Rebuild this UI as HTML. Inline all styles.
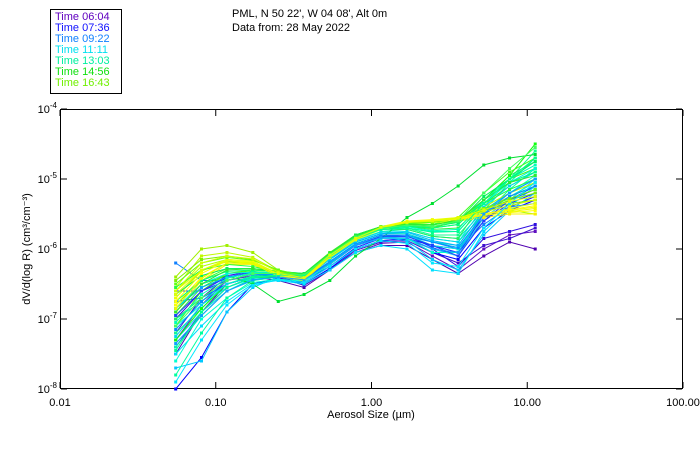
<!DOCTYPE html>
<html><head><meta charset="utf-8"><style>
html,body{margin:0;padding:0;background:#fff;}
svg{display:block;font-family:"Liberation Sans",sans-serif;}
</style></head><body>
<svg id="chart" width="700" height="450" viewBox="0 0 700 450">
<rect x="0" y="0" width="700" height="450" fill="#fff"/>
<g>
<rect x="50.5" y="9.5" width="71" height="84" fill="none" stroke="#000"/>
<g font-size="11">
<text x="55" y="20" fill="#6000c0">Time 06:04</text>
<text x="55" y="31" fill="#1010ff">Time 07:36</text>
<text x="55" y="42" fill="#1080ff">Time 09:22</text>
<text x="55" y="53" fill="#00e0f0">Time 11:11</text>
<text x="55" y="64" fill="#00f0a0">Time 13:03</text>
<text x="55" y="75" fill="#10e010">Time 14:56</text>
<text x="55" y="86" fill="#70f000">Time 16:43</text>
</g></g>
<text x="232" y="17" font-size="11">PML, N 50 22', W 04 08', Alt 0m</text>
<text x="232" y="31" font-size="11">Data from: 28 May 2022</text>
<rect x="60.5" y="109.5" width="622" height="279" fill="none" stroke="#000"/>
<g id="axes"></g>
<g id="series"></g>
<text x="371" y="418" font-size="11" text-anchor="middle">Aerosol Size (µm)</text>
<text transform="translate(30,249) rotate(-90)" font-size="11" text-anchor="middle">dV/d(log R) (cm³/cm⁻³)</text>
</svg>
<script>
const sizes=[0.0553,0.081,0.118,0.173,0.252,0.369,0.54,0.79,1.15,1.69,2.46,3.6,5.26,7.7,11.25];
const xTicks=[0.01,0.1,1,10,100];
const xTickLabels=["0.01","0.10","1.00","10.00","100.00"];
const yTickExp=[-4,-5,-6,-7,-8];
const seriesColors=["#5000b0","#6010c0","#4010d0","#3010e0","#0000ff","#1030ff","#0050ff","#2020f0","#1080ff","#00c8ff","#00e0ff","#20d0f0","#00f0e0","#00ffd0","#00f0c0","#00ffa0","#00f8b0","#10ff90","#00e030","#20f060","#10ff10","#30f040","#40ff20","#50f010","#a0f000","#c0f800","#90f000","#b0ff00","#f0ff00","#ffff00","#f8f000","#e8ff10",
"#2040ff","#0090ff","#00b0ff","#00d8f0","#00f8d8","#00ffb8","#00ff80","#00f060","#20ff40","#30e830","#60ff10","#80f000","#d0ff00","#ffff00","#f0f800","#00e8ff","#10a0ff","#40ff60","#00ff90","#e0ff00"];
const seriesLogValues=[
[-7.5,-6.9,-6.5,-6.4,-6.45,-6.55,-6.3,-6.05,-5.95,-5.95,-6.15,-6.35,-6.1,-5.9,-6.0],
[-7.3,-6.8,-6.45,-6.38,-6.42,-6.5,-6.28,-6.05,-5.92,-5.9,-6.1,-6.3,-6.0,-5.8,-5.75],
[-7.2,-6.7,-6.4,-6.35,-6.4,-6.52,-6.3,-6.02,-5.9,-5.88,-6.05,-6.2,-5.95,-5.85,-5.7],
[-7.0,-6.6,-6.38,-6.32,-6.4,-6.48,-6.25,-6.0,-5.88,-5.86,-6.0,-6.25,-5.85,-5.75,-5.65],
[-8.0,-7.55,-6.9,-6.5,-6.42,-6.5,-6.28,-6.0,-5.88,-5.85,-6.05,-6.15,-5.7,-5.45,-5.3],
[-6.6,-6.6,-6.45,-6.35,-6.35,-6.45,-6.25,-5.98,-5.85,-5.85,-5.95,-6.05,-5.6,-5.35,-5.2],
[-6.75,-6.7,-6.5,-6.4,-6.35,-6.42,-6.22,-5.95,-5.82,-5.8,-5.98,-6.1,-5.5,-5.3,-5.1],
[-7.4,-6.9,-6.55,-6.4,-6.38,-6.45,-6.22,-5.95,-5.85,-5.85,-5.95,-6.0,-5.55,-5.4,-5.25],
[-6.2,-6.45,-6.45,-6.35,-6.36,-6.44,-6.2,-5.95,-5.82,-5.82,-5.9,-6.0,-5.65,-5.4,-5.35],
[-7.7,-7.6,-6.9,-6.55,-6.4,-6.45,-6.2,-5.95,-5.83,-5.88,-6.15,-6.3,-5.8,-5.45,-5.2],
[-7.5,-7.1,-6.75,-6.5,-6.45,-6.5,-6.3,-6.05,-5.95,-6.0,-6.3,-6.35,-5.75,-5.4,-5.1],
[-7.3,-6.9,-6.6,-6.45,-6.4,-6.45,-6.2,-5.95,-5.85,-5.85,-6.0,-6.1,-5.55,-5.3,-5.0],
[-7.1,-6.8,-6.55,-6.42,-6.4,-6.43,-6.18,-5.92,-5.8,-5.8,-5.95,-6.0,-5.5,-5.25,-5.05],
[-7.6,-7.0,-6.7,-6.48,-6.43,-6.46,-6.22,-5.95,-5.82,-5.85,-6.05,-6.05,-5.45,-5.2,-4.95],
[-7.0,-6.75,-6.5,-6.4,-6.38,-6.4,-6.15,-5.9,-5.78,-5.78,-5.9,-5.95,-5.45,-5.2,-5.0],
[-7.8,-7.2,-6.7,-6.45,-6.4,-6.42,-6.15,-5.9,-5.78,-5.75,-5.85,-5.9,-5.5,-5.15,-4.85],
[-7.4,-6.95,-6.6,-6.42,-6.38,-6.4,-6.12,-5.88,-5.75,-5.72,-5.82,-5.85,-5.45,-5.05,-4.7],
[-7.2,-6.85,-6.5,-6.38,-6.35,-6.38,-6.1,-5.85,-5.72,-5.7,-5.8,-5.8,-5.4,-5.0,-4.6],
[-6.9,-6.5,-6.38,-6.5,-6.75,-6.65,-6.45,-6.1,-5.85,-5.55,-5.35,-5.1,-4.8,-4.7,-4.65],
[-7.0,-6.7,-6.45,-6.35,-6.35,-6.38,-6.1,-5.85,-5.72,-5.72,-5.82,-5.85,-5.3,-4.95,-4.75],
[-7.3,-6.85,-6.5,-6.4,-6.4,-6.4,-6.1,-5.85,-5.72,-5.68,-5.7,-5.65,-5.3,-4.95,-4.5],
[-6.95,-6.55,-6.35,-6.32,-6.35,-6.38,-6.08,-5.82,-5.7,-5.68,-5.72,-5.7,-5.35,-5.1,-4.9],
[-6.8,-6.45,-6.28,-6.28,-6.33,-6.36,-6.06,-5.8,-5.68,-5.65,-5.65,-5.55,-5.2,-4.9,-4.7],
[-7.1,-6.6,-6.35,-6.3,-6.32,-6.35,-6.05,-5.8,-5.68,-5.65,-5.7,-5.6,-5.3,-5.0,-4.85],
[-6.4,-6.0,-5.95,-6.05,-6.3,-6.4,-6.1,-5.85,-5.7,-5.62,-5.6,-5.55,-5.45,-5.25,-5.1],
[-6.55,-6.1,-6.05,-6.12,-6.32,-6.4,-6.1,-5.85,-5.7,-5.62,-5.6,-5.55,-5.4,-5.2,-5.05],
[-6.7,-6.3,-6.18,-6.2,-6.35,-6.42,-6.1,-5.85,-5.7,-5.63,-5.62,-5.55,-5.45,-5.35,-5.3],
[-6.6,-6.25,-6.15,-6.18,-6.35,-6.43,-6.1,-5.87,-5.7,-5.62,-5.6,-5.55,-5.5,-5.45,-5.5],
[-6.7,-6.32,-6.15,-6.17,-6.36,-6.42,-6.1,-5.86,-5.68,-5.6,-5.58,-5.55,-5.5,-5.45,-5.4],
[-6.8,-6.4,-6.2,-6.2,-6.38,-6.45,-6.12,-5.87,-5.7,-5.62,-5.6,-5.58,-5.52,-5.48,-5.45],
[-6.9,-6.45,-6.22,-6.22,-6.4,-6.45,-6.13,-5.88,-5.7,-5.63,-5.62,-5.6,-5.55,-5.5,-5.5],
[-6.6,-6.3,-6.15,-6.18,-6.38,-6.44,-6.12,-5.88,-5.72,-5.65,-5.62,-5.6,-5.5,-5.42,-5.35],
[-6.95,-6.6,-6.4,-6.33,-6.36,-6.42,-6.2,-5.95,-5.82,-5.82,-5.95,-6.1,-5.6,-5.3,-5.15],
[-7.15,-6.75,-6.45,-6.36,-6.37,-6.42,-6.18,-5.93,-5.8,-5.8,-5.9,-5.98,-5.5,-5.25,-5.1],
[-6.85,-6.55,-6.4,-6.35,-6.36,-6.4,-6.15,-5.9,-5.78,-5.76,-5.88,-5.95,-5.45,-5.2,-5.0],
[-7.25,-6.8,-6.5,-6.4,-6.38,-6.4,-6.14,-5.88,-5.76,-5.75,-5.85,-5.9,-5.4,-5.1,-4.9],
[-6.85,-6.5,-6.35,-6.33,-6.35,-6.38,-6.1,-5.84,-5.72,-5.7,-5.75,-5.75,-5.35,-5.05,-4.85],
[-7.05,-6.65,-6.42,-6.34,-6.34,-6.37,-6.08,-5.83,-5.7,-5.68,-5.74,-5.72,-5.3,-5.0,-4.8],
[-6.75,-6.45,-6.32,-6.3,-6.33,-6.36,-6.07,-5.82,-5.7,-5.67,-5.7,-5.65,-5.3,-5.05,-4.9],
[-6.65,-6.38,-6.28,-6.28,-6.32,-6.35,-6.06,-5.8,-5.68,-5.66,-5.68,-5.62,-5.25,-5.0,-4.75],
[-6.55,-6.3,-6.22,-6.25,-6.33,-6.37,-6.07,-5.82,-5.68,-5.64,-5.65,-5.6,-5.35,-5.15,-5.0],
[-6.9,-6.5,-6.3,-6.28,-6.32,-6.36,-6.06,-5.81,-5.68,-5.65,-5.66,-5.58,-5.3,-5.05,-4.95],
[-6.5,-6.2,-6.12,-6.16,-6.3,-6.38,-6.08,-5.84,-5.69,-5.63,-5.62,-5.57,-5.42,-5.28,-5.15],
[-6.45,-6.15,-6.1,-6.15,-6.32,-6.4,-6.1,-5.85,-5.7,-5.62,-5.6,-5.56,-5.45,-5.3,-5.2],
[-6.6,-6.2,-6.1,-6.14,-6.33,-6.41,-6.1,-5.86,-5.69,-5.61,-5.59,-5.56,-5.47,-5.38,-5.3],
[-6.75,-6.35,-6.17,-6.19,-6.37,-6.43,-6.11,-5.86,-5.69,-5.61,-5.59,-5.57,-5.5,-5.44,-5.38],
[-6.85,-6.42,-6.2,-6.21,-6.39,-6.45,-6.12,-5.87,-5.7,-5.62,-5.6,-5.58,-5.52,-5.47,-5.42],
[-7.9,-7.3,-6.8,-6.52,-6.44,-6.48,-6.25,-6.0,-5.88,-5.92,-6.2,-6.25,-5.7,-5.35,-5.05],
[-7.35,-6.95,-6.6,-6.44,-6.4,-6.44,-6.2,-5.95,-5.84,-5.84,-6.0,-6.05,-5.5,-5.2,-5.0],
[-7.1,-6.7,-6.45,-6.35,-6.35,-6.37,-6.08,-5.83,-5.7,-5.66,-5.68,-5.6,-5.2,-4.85,-4.55],
[-7.45,-6.9,-6.55,-6.4,-6.37,-6.39,-6.1,-5.85,-5.72,-5.7,-5.76,-5.75,-5.35,-5.0,-4.7],
[-6.65,-6.3,-6.17,-6.2,-6.35,-6.41,-6.09,-5.85,-5.69,-5.62,-5.6,-5.56,-5.44,-5.32,-5.25]
];
const NS="http://www.w3.org/2000/svg";
function xScale(v){return 60+(Math.log10(v)+2)*155.75;}
function yScale(logv){return 109+(-4-logv)*70;}
const axes=document.getElementById('axes');
xTicks.forEach((t,i)=>{
  const x=xScale(t);
  const tk=document.createElementNS(NS,'line');
  tk.setAttribute('x1',x);tk.setAttribute('x2',x);tk.setAttribute('y1',388);tk.setAttribute('y2',382);
  tk.setAttribute('stroke','#000');
  
  
  axes.appendChild(tk);
  const tk2=document.createElementNS(NS,'line');
  tk2.setAttribute('x1',x);tk2.setAttribute('x2',x);tk2.setAttribute('y1',110);tk2.setAttribute('y2',116);
  tk2.setAttribute('stroke','#000');
  
  
  axes.appendChild(tk2);
  const tx=document.createElementNS(NS,'text');
  tx.setAttribute('x',x);tx.setAttribute('y',406);tx.setAttribute('font-size','11');tx.setAttribute('text-anchor','middle');
  tx.textContent=xTickLabels[i];
  
  
  axes.appendChild(tx);
});
yTickExp.forEach(e=>{
  const y=yScale(e);
  const tk=document.createElementNS(NS,'line');
  tk.setAttribute('x1',61);tk.setAttribute('x2',67);tk.setAttribute('y1',y);tk.setAttribute('y2',y);
  tk.setAttribute('stroke','#000');
  
  
  axes.appendChild(tk);
  const tk2=document.createElementNS(NS,'line');
  tk2.setAttribute('x1',676);tk2.setAttribute('x2',682);tk2.setAttribute('y1',y);tk2.setAttribute('y2',y);
  tk2.setAttribute('stroke','#000');
  
  
  axes.appendChild(tk2);
  const tx=document.createElementNS(NS,'text');
  tx.setAttribute('x',57);tx.setAttribute('y',y+4);tx.setAttribute('font-size','11');tx.setAttribute('text-anchor','end');
  tx.textContent='10';
  const sup=document.createElementNS(NS,'tspan');
  sup.setAttribute('font-size','8');sup.setAttribute('dy','-5');
  sup.textContent=String(e);
  tx.appendChild(sup);
  
  
  axes.appendChild(tx);
});
const sg=document.getElementById('series');
seriesLogValues.forEach((vals,i)=>{
  const col=seriesColors[i%seriesColors.length];
  const g=document.createElementNS(NS,'g');
  
  
  const pts=vals.map((v,j)=>xScale(sizes[j]).toFixed(1)+','+yScale(v).toFixed(1)).join(' ');
  const pl=document.createElementNS(NS,'polyline');
  pl.setAttribute('points',pts);pl.setAttribute('fill','none');pl.setAttribute('stroke',col);pl.setAttribute('stroke-width','1');
  
  
  g.appendChild(pl);
  vals.forEach((v,j)=>{
    const r=document.createElementNS(NS,'rect');
    r.setAttribute('x',xScale(sizes[j])-1.5);r.setAttribute('y',yScale(v)-1.5);
    r.setAttribute('width',3);r.setAttribute('height',3);r.setAttribute('fill',col);
    
    
    g.appendChild(r);
  });
  sg.appendChild(g);
});
</script>
</body></html>
